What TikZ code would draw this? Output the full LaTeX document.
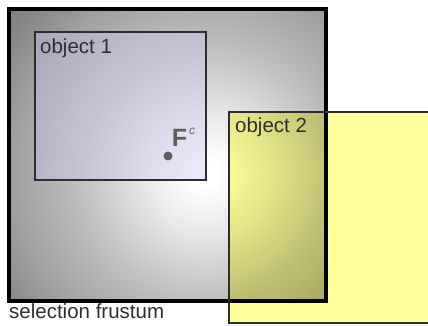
\documentclass[tikz,border=0pt]{standalone}
\usepackage{fontspec}
\setmainfont{Liberation Sans}
\usetikzlibrary{positioning}
\pgfdeclareradialshading{frust}{\pgfpoint{0bp}{0bp}}{color(0bp)=(white); color(12bp)=(white); color(60bp)=(black!9); color(120bp)=(black!24); color(190bp)=(black!37); color(250bp)=(black!50); color(300bp)=(black!55)}
\definecolor{objblue}{RGB}{200,200,245}
\definecolor{objyellow}{RGB}{255,255,153}
\definecolor{edge}{RGB}{45,45,45}
\definecolor{fcol}{RGB}{95,95,95}
\tikzset{
  x=1pt,y=1pt,
  lbl/.style={font=\fontsize{20.5}{24}\selectfont, inner sep=0pt, anchor=north west, text=black!82},
  box/.style={rectangle, inner sep=0pt, outer sep=0pt},
}
\begin{document}
\begin{tikzpicture}
\useasboundingbox (0,0) rectangle (428,326);
% selection frustum
\node[box, minimum width=317pt, minimum height=292pt] (fr) at (167.5,171) {};
\begin{scope}
\clip (fr.south west) rectangle (fr.north east);
\node[inner sep=0pt, outer sep=0pt] (glow) at (205,153) {\pgfuseshading{frust}};
\end{scope}
\draw[line width=3.5pt, black] (fr.south west) rectangle (fr.north east);
% object 1
\node[box, minimum width=171pt, minimum height=148pt, fill=objblue, fill opacity=0.4,
  draw=edge, draw opacity=1, line width=1.8pt] (o1) at (120.5,220) {};
\node[lbl] (o1l) at ([shift={(5pt,-6pt)}]o1.north west) {object 1};
% point F^c
\node[circle, fill=fcol, minimum size=9pt, inner sep=0pt] (pt) at (168,170) {};
\node[inner sep=0pt, text=fcol, font=\fontsize{25}{28}\selectfont\bfseries] (F) at (179.5,188) {F};
\node[inner sep=0pt, text=fcol, font=\fontsize{12}{14}\selectfont\itshape, anchor=west] (c) at (189,195) {c};
% object 2
\begin{scope}[blend mode=multiply]
\node[box, minimum width=201pt, minimum height=211pt, fill=objyellow] (o2) at (329.5,108.5) {};
\end{scope}
\draw[edge, line width=1.5pt] (o2.south west) rectangle (o2.north east);
\node[lbl] (o2l) at ([shift={(6pt,-5pt)}]o2.north west) {object 2};
% caption
\node[lbl, anchor=base west] (cap) at (9,7) {selection frustum};
\end{tikzpicture}
\end{document}
